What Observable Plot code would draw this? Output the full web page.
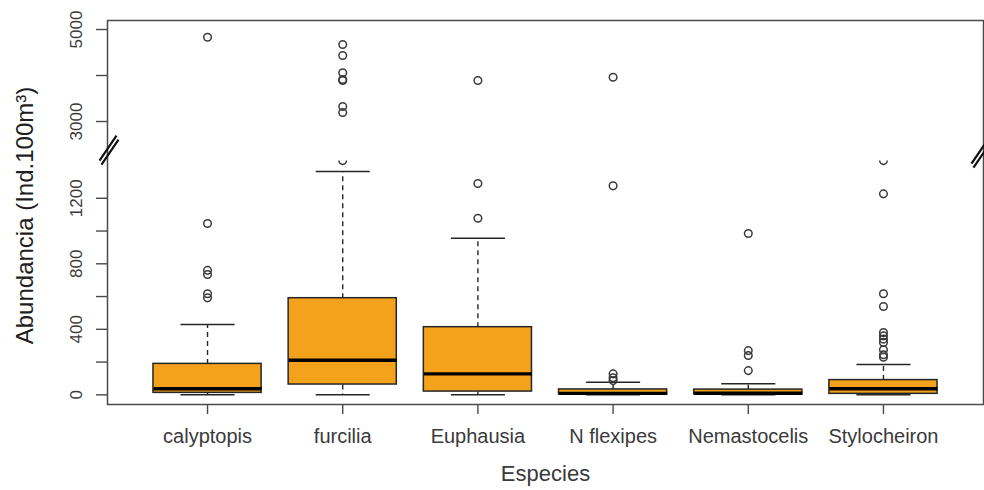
<!DOCTYPE html>
<html>
<head>
<meta charset="utf-8">
<script src="https://cdn.jsdelivr.net/npm/d3@7"></script>
<script src="https://cdn.jsdelivr.net/npm/@observablehq/plot@0.6"></script>
<style>
  html, body { margin: 0; padding: 0; background: #fff; }
  #chart svg { display: block; }
</style>
</head>
<body>
<div id="chart"></div>
<script>
// ---- data ----
const species = ["calyptopis", "furcilia", "Euphausia", "N flexipes", "Nemastocelis", "Stylocheiron"];
const lowerWhisker = [0, 0, 0, 0, 0, 0];
const q1 = [12, 63, 20, 2, 2, 6];
const median = [37, 211, 128, 9, 10, 37];
const q3 = [189, 590, 413, 33, 32, 90];
const upperWhisker = [429, 1363, 956, 77, 67, 185];
const outliers = [
  [592, 617, 735, 760, 1046, 4833],
  [3196, 3326, 3890, 3913, 4059, 4435, 4674],
  [1078, 1290, 3891],
  [87, 104, 128, 1276, 3963],
  [148, 240, 270, 985],
  [230, 245, 275, 320, 340, 360, 380, 539, 617, 1227]
];
// outliers that fall inside the axis gap (drawn cut at the break)
const gapSpecies = ["furcilia", "Stylocheiron"];
const gapValues = [1500, 1500];

const yTicks = [0, 200, 400, 600, 800, 1000, 1200, 3000, 4000, 5000];
const yTickLabels = [0, 400, 800, 1200, 3000, 5000];
const xTitle = "Especies";
const yTitle = "Abundancia (Ind.100m³)";

// broken axis: lower part up to breakLow, upper part from breakHigh
const breakLow = 1430, breakHigh = 2150;
const xDomain = [0.26, 6.74];

// ---- derived tables ----
const stats = species.map((s, k) => ({
  i: k + 1, species: s,
  lw: lowerWhisker[k], q1: q1[k], med: median[k], q3: q3[k], uw: upperWhisker[k]
}));
const outRows = outliers.flatMap((vals, k) => vals.map(v => ({i: k + 1, v})));
const gapRows = gapSpecies.map((s, k) => ({i: species.indexOf(s) + 1, v: gapValues[k]}));

// custom symbols
const halfCircle = {
  draw(ctx, size) {
    const r = Math.sqrt(size / Math.PI);
    ctx.moveTo(r, 0);
    ctx.arc(0, 0, r, 0, Math.PI);
  }
};
const breakMark = {
  draw(ctx) {
    ctx.moveTo(-9, 11); ctx.lineTo(8, -14);
    ctx.moveTo(-7, 15); ctx.lineTo(10, -10);
  }
};

const orange = "#f4a21b";
const ink = "#262626";

const chart = Plot.plot({
  width: 984,
  height: 490,
  marginLeft: 107,
  marginRight: 1,
  marginTop: 20,
  marginBottom: 86,
  style: {fontFamily: "'Liberation Sans', Arial, sans-serif", color: "#3a3a3a", background: "#fff"},
  x: {type: "linear", domain: xDomain, axis: null},
  y: {type: "linear", domain: [-59, breakLow, breakHigh, 5196], range: [404, 160.1, 160.1, 20], axis: null},
  marks: [
    // whiskers
    Plot.link(stats, {x1: "i", x2: "i", y1: "q3", y2: "uw", stroke: ink, strokeWidth: 1.4, strokeDasharray: "5,4"}),
    Plot.link(stats, {x1: "i", x2: "i", y1: "q1", y2: "lw", stroke: ink, strokeWidth: 1.4, strokeDasharray: "5,4"}),
    // staples
    Plot.link(stats, {x1: d => d.i - 0.2, x2: d => d.i + 0.2, y1: "uw", y2: "uw", stroke: ink, strokeWidth: 1.5}),
    Plot.link(stats, {x1: d => d.i - 0.2, x2: d => d.i + 0.2, y1: "lw", y2: "lw", stroke: ink, strokeWidth: 1.5}),
    // boxes
    Plot.rect(stats, {x1: d => d.i - 0.4, x2: d => d.i + 0.4, y1: "q1", y2: "q3", fill: orange, stroke: ink, strokeWidth: 1.5}),
    // medians
    Plot.link(stats, {x1: d => d.i - 0.4, x2: d => d.i + 0.4, y1: "med", y2: "med", stroke: "#000", strokeWidth: 3.4}),
    // outliers
    Plot.dot(outRows, {x: "i", y: "v", r: 3.8, fill: "none", stroke: "#3a3a3a", strokeWidth: 1.5}),
    Plot.dot(gapRows, {x: "i", y: "v", r: 3.8, symbol: halfCircle, fill: "none", stroke: "#3a3a3a", strokeWidth: 1.5}),
    // frame
    Plot.frame({stroke: "#4a4a4a", strokeWidth: 1.5}),
    // axes
    Plot.axisY({
      ticks: yTicks, tickSize: 11, tickRotate: -90, tickPadding: 15, fontSize: 17,
      tickFormat: d => yTickLabels.includes(d) ? String(d) : "",
      stroke: "#4a4a4a", strokeWidth: 1.4
    }),
    Plot.axisX({
      ticks: d3.range(1, species.length + 1), tickSize: 10, tickPadding: 14, fontSize: 20,
      tickFormat: i => species[i - 1], stroke: "#4a4a4a", strokeWidth: 1.4
    }),
    // axis breaks
    Plot.dot([{x: xDomain[0], y: breakLow}], {x: "x", y: "y", symbol: breakMark, stroke: "#111", strokeWidth: 2.2, fill: "none", dx: 1, dy: -11}),
    Plot.dot([{x: xDomain[1], y: breakLow}], {x: "x", y: "y", symbol: breakMark, stroke: "#111", strokeWidth: 2.2, fill: "none", dx: -3, dy: -8}),
    // titles
    Plot.text([xTitle], {frameAnchor: "bottom", dy: 76, fontSize: 22, fill: "#3a3a3a"}),
    Plot.text([yTitle], {frameAnchor: "left", textAnchor: "middle", dx: -82, dy: 3, rotate: -90, fontSize: 24, fill: "#1e1e1e"})
  ]
});
document.getElementById("chart").appendChild(chart);
</script>
</body>
</html>
